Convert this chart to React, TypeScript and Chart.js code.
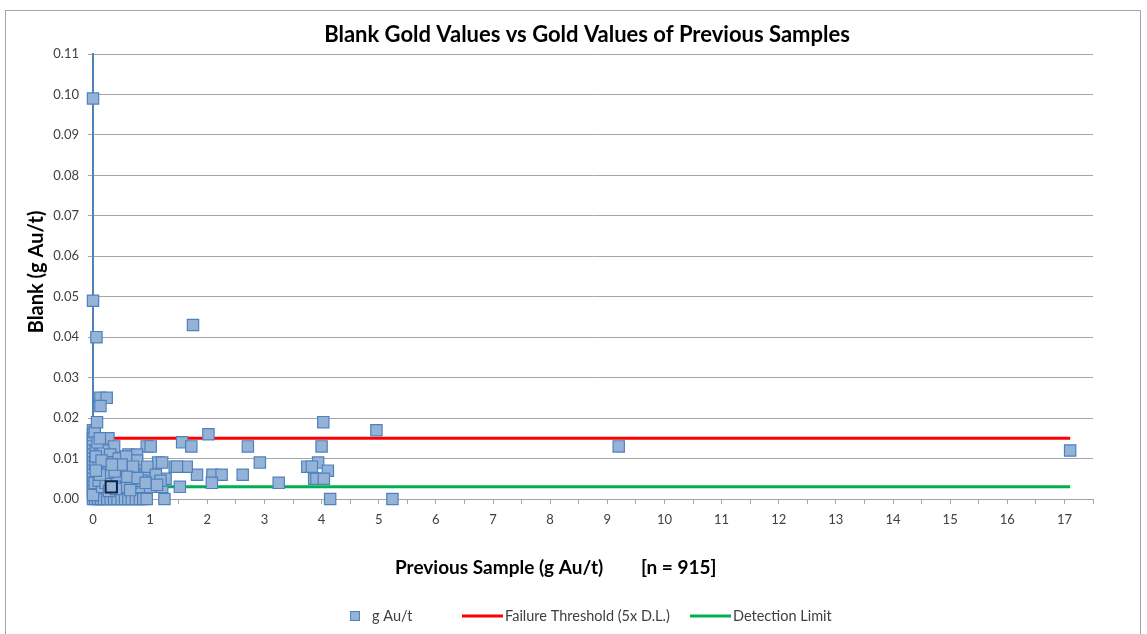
import React, { useEffect, useRef } from "react";
import { Chart, registerables } from "chart.js";

Chart.register(...registerables);

// Previous sample grade (g Au/t) for each blank
const prevSample: number[] = [
  // zero-valued blanks
  0.0, 0.04, 0.09, 0.14, 0.19, 0.25, 0.31, 0.37, 0.43, 0.5, 0.56, 0.62, 0.68, 0.75, 0.82, 0.88, 0.94, 1.25, 4.15, 5.24,
  // column near x = 0
  0.0, 0.0, 0.0, 0.0, 0.0, 0.0, 0.0, 0.0, 0.0, 0.0, 0.0, 0.0, 0.0, 0.0, 0.0, 0.0, 0.0,
  0.03, 0.05, 0.04, 0.06, 0.03,
  // dense cluster
  0.07, 0.13, 0.24, 0.13, 0.27, 0.37, 0.94, 1.01, 0.62, 0.77, 0.22, 0.12, 0.18, 0.3,
  0.42, 0.65, 0.77, 0.83, 1.03, 1.14, 1.21, 0.53, 0.71, 0.83, 1.0, 1.21, 1.05, 1.27,
  0.16, 0.16, 0.3, 0.48, 0.62, 0.1, 0.2, 0.25, 0.35, 0.45, 0.55, 0.58,
  0.4, 0.47, 0.58, 0.68, 0.9, 0.95, 1.1, 1.18, 0.72, 0.86, 0.1, 0.22, 0.26, 0.38, 0.5, 0.7,
  0.08, 0.12, 0.05, 0.15, 0.33, 0.6, 0.78, 0.92, 1.12, 0.12, 0.05, 0.28, 0.4, 0.65,
  // high values
  0.0, 0.0, 0.06, 1.75,
  // scattered points
  4.03, 4.96, 2.02, 9.2, 17.1, 1.56, 1.72, 2.71, 4.0,
  2.92, 3.94, 3.75, 3.83, 4.11, 3.87, 3.91, 4.04, 3.25, 2.62,
  2.09, 2.25, 2.08, 1.82, 1.64, 1.43, 1.47, 1.52,
  // highlighted point
  0.32,
];

// Blank assay value (g Au/t)
const blankAu: number[] = [
  0, 0, 0, 0, 0, 0, 0, 0, 0, 0, 0, 0, 0, 0, 0, 0, 0, 0, 0, 0,
  0.017, 0.016, 0.015, 0.014, 0.013, 0.012, 0.011, 0.01, 0.009, 0.008, 0.007, 0.006, 0.005, 0.004, 0.003, 0.002, 0.001,
  0.0165, 0.012, 0.009, 0.006, 0.004,
  0.019, 0.025, 0.025, 0.023, 0.015, 0.013, 0.013, 0.013, 0.011, 0.011, 0.01, 0.011, 0.012, 0.011,
  0.008, 0.009, 0.0095, 0.007, 0.007, 0.009, 0.009, 0.0047, 0.0047, 0.003, 0.003, 0.003, 0.005, 0.005,
  0.003, 0.0055, 0.0055, 0.0064, 0.0065, 0.008, 0.007, 0.009, 0.009, 0.01, 0.008, 0.0105,
  0.005, 0.003, 0.003, 0.004, 0.006, 0.008, 0.006, 0.0045, 0.006, 0.0045, 0.0045, 0.004, 0.0065, 0.0068, 0.0085, 0.008,
  0.014, 0.015, 0.0105, 0.0095, 0.0085, 0.0055, 0.0052, 0.004, 0.0035, 0.006, 0.007, 0.002, 0.0025, 0.0022,
  0.099, 0.049, 0.04, 0.043,
  0.019, 0.017, 0.016, 0.013, 0.012, 0.014, 0.013, 0.013, 0.013,
  0.009, 0.009, 0.008, 0.008, 0.007, 0.005, 0.005, 0.005, 0.004, 0.006,
  0.006, 0.006, 0.004, 0.006, 0.008, 0.008, 0.008, 0.003,
  0.003,
];

const failureThreshold = 0.015;
const detectionLimit = 0.003;
const referenceLineX: number[] = [0, 17.1];

const chartTitle = "Blank Gold Values vs Gold Values of Previous Samples";
const yTitle = "Blank (g Au/t)";
const xTitleMain = "Previous Sample (g Au/t)";
const xTitleCount = "[n = 915]";
const seriesLabels: string[] = ["g Au/t", "Failure Threshold (5x D.L.)", "Detection Limit"];

const FONT = "Lato, 'Open Sans', sans-serif";
const MARKER_FILL = "#95b3d7";
const MARKER_EDGE = "#4f81bd";

const decorPlugin = {
  id: "decor",
  beforeDraw(chart: any) {
    const ctx = chart.ctx;
    ctx.save();
    ctx.fillStyle = "#ffffff";
    ctx.fillRect(0, 0, chart.width, chart.height);
    ctx.strokeStyle = "#a6a6a6";
    ctx.lineWidth = 1;
    ctx.strokeRect(5.5, 10.5, 1135, 700);
    ctx.restore();
  },
  afterDraw(chart: any) {
    const ctx = chart.ctx;
    const area = chart.chartArea;
    ctx.save();
    // title
    ctx.fillStyle = "#000000";
    ctx.font = `bold 22px ${FONT}`;
    ctx.textAlign = "center";
    ctx.textBaseline = "middle";
    ctx.fillText(chartTitle, 587, 35);
    // y title
    ctx.save();
    ctx.translate(37, 272);
    ctx.rotate(-Math.PI / 2);
    ctx.font = `bold 20px ${FONT}`;
    ctx.fillText(yTitle, 0, 0);
    ctx.restore();
    // x title
    ctx.font = `bold 19px ${FONT}`;
    ctx.textAlign = "left";
    ctx.fillText(xTitleMain, 395, 568);
    ctx.fillText(xTitleCount, 641, 568);

    // legend
    const ly = 616;
    ctx.font = `14.5px ${FONT}`;
    ctx.textAlign = "left";
    ctx.fillStyle = MARKER_FILL;
    ctx.strokeStyle = MARKER_EDGE;
    ctx.lineWidth = 1;
    ctx.fillRect(350.5, ly - 4.5, 9, 9);
    ctx.strokeRect(350.5, ly - 4.5, 9, 9);
    ctx.fillStyle = "#404040";
    ctx.fillText(seriesLabels[0], 372, ly);
    ctx.strokeStyle = "#ff0000";
    ctx.lineWidth = 3;
    ctx.beginPath();
    ctx.moveTo(462, ly);
    ctx.lineTo(503, ly);
    ctx.stroke();
    ctx.fillText(seriesLabels[1], 505, ly);
    ctx.strokeStyle = "#00b050";
    ctx.beginPath();
    ctx.moveTo(690, ly);
    ctx.lineTo(731, ly);
    ctx.stroke();
    ctx.fillText(seriesLabels[2], 733, ly);
    ctx.restore();
  },
};

export default function App() {
  const canvasRef = useRef<HTMLCanvasElement | null>(null);

  useEffect(() => {
    document.body.style.margin = "0";
    const canvas = canvasRef.current;
    if (!canvas) return;
    const points = prevSample.map((x, i) => ({ x, y: blankAu[i] }));
    const highlight = points.length - 1;
    const chart = new Chart(canvas, {
      type: "scatter",
      data: {
        datasets: [
          {
            label: seriesLabels[0],
            data: points,
            pointStyle: "rect",
            pointRadius: 8,
            pointHoverRadius: 8,
            backgroundColor: MARKER_FILL,
            borderColor: (c: any) => (c.dataIndex === highlight ? "#0d2345" : MARKER_EDGE),
            borderWidth: (c: any) => (c.dataIndex === highlight ? 2 : 1.2),
            clip: false,
            order: 0,
          } as any,
          {
            label: seriesLabels[1],
            data: referenceLineX.map((x) => ({ x, y: failureThreshold })),
            showLine: true,
            borderColor: "#ff0000",
            borderWidth: 3,
            pointRadius: 0,
            order: 1,
          },
          {
            label: seriesLabels[2],
            data: referenceLineX.map((x) => ({ x, y: detectionLimit })),
            showLine: true,
            borderColor: "#00b050",
            borderWidth: 3,
            pointRadius: 0,
            order: 1,
          },
        ],
      },
      options: {
        animation: false,
        responsive: false,
        events: [],
        layout: { padding: { left: 33, top: 54, right: 54, bottom: 110 } },
        plugins: {
          legend: { display: false },
          title: { display: false },
          tooltip: { enabled: false },
        },
        scales: {
          x: {
            type: "linear",
            min: 0,
            max: 17.5,
            afterFit: (s: any) => {
              s.height = 25;
            },
            grid: { drawOnChartArea: false, drawTicks: true, tickLength: 5, color: "#a6a6a6" },
            border: { display: true, color: "#a6a6a6", width: 1 },
            ticks: {
              stepSize: 0.5,
              autoSkip: false,
              maxRotation: 0,
              padding: 8,
              color: "#404040",
              font: { family: FONT, size: 13 },
              callback: (v: any) => (Number.isInteger(Number(v)) ? String(v) : ""),
            },
          },
          y: {
            type: "linear",
            min: 0,
            max: 0.11,
            afterFit: (s: any) => {
              s.width = 60;
            },
            grid: { drawOnChartArea: true, drawTicks: true, tickLength: 5, color: "#a6a6a6" },
            border: { display: true, color: "#4f81bd", width: 2 },
            ticks: {
              stepSize: 0.01,
              padding: 9,
              color: "#404040",
              font: { family: FONT, size: 13 },
              callback: (v: any) => Number(v).toFixed(2),
            },
          },
        },
      },
      plugins: [decorPlugin],
    });
    return () => chart.destroy();
  }, []);

  return (
    <div style={{ width: 1147, height: 634, position: "relative", overflow: "hidden" }}>
      <canvas ref={canvasRef} width={1147} height={634} style={{ display: "block" }} />
    </div>
  );
}
